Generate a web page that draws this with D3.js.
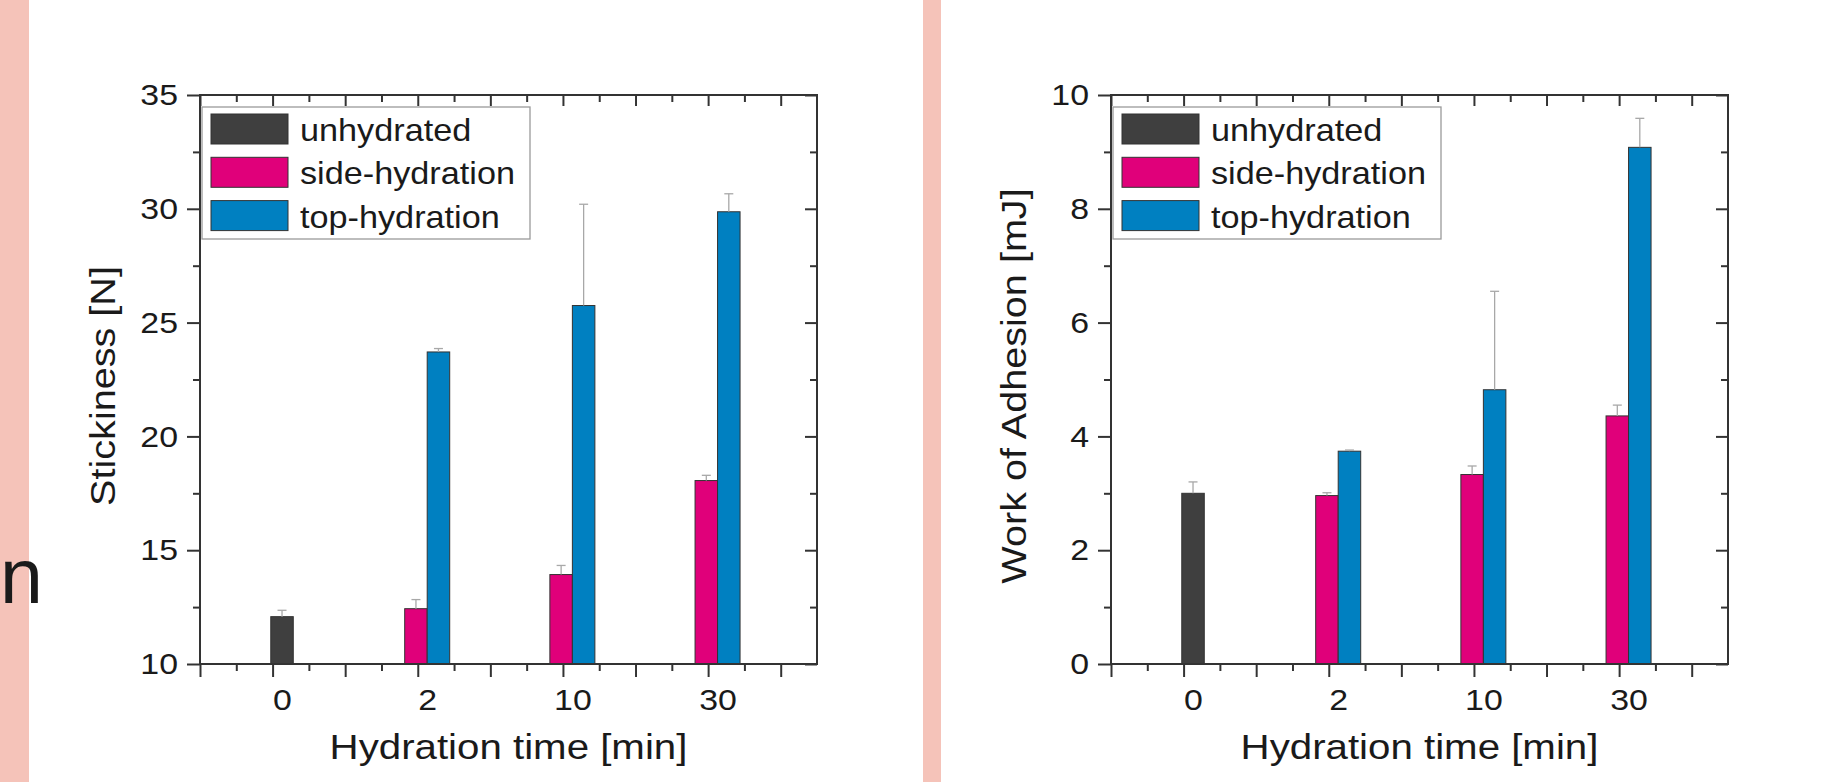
<!DOCTYPE html>
<html>
<head>
<meta charset="utf-8">
<script src="https://cdn.jsdelivr.net/npm/d3@7"></script>
<style>
body { margin: 0; background: #fff; }
text { font-family: "Liberation Sans", Arial, sans-serif; fill: #1a1a1a; }
</style>
</head>
<body>
<div id="chart"></div>
<script>
// categories and series
let categories = ["0", "2", "10", "30"];
let seriesNames = ["unhydrated", "side-hydration", "top-hydration"];
let seriesColors = ["#3f3f3f", "#e0007a", "#0080c1"];

// stickiness [N]
let stickUnhydrated = [12.08, null, null, null];
let stickSide = [null, 12.43, 13.93, 18.06];
let stickTop = [null, 23.71, 25.75, 29.87];
let stickUnhydratedErr = [0.28, null, null, null];
let stickSideErr = [null, 0.40, 0.40, 0.23];
let stickTopErr = [null, 0.15, 4.45, 0.79];
let stickTicks = [10, 15, 20, 25, 30, 35];
let stickMinor = [12.5, 17.5, 22.5, 27.5, 32.5];

// work of adhesion [mJ]
let workUnhydrated = [3.00, null, null, null];
let workSide = [null, 2.96, 3.33, 4.36];
let workTop = [null, 3.74, 4.82, 9.08];
let workUnhydratedErr = [0.20, null, null, null];
let workSideErr = [null, 0.05, 0.15, 0.19];
let workTopErr = [null, 0.02, 1.73, 0.51];
let workTicks = [0, 2, 4, 6, 8, 10];
let workMinor = [1, 3, 5, 7, 9];

let width = 1833, height = 782;
let plotTop = 95, plotBottom = 664, plotW = 617;
let catPos = [1.13, 3.13, 5.13, 7.13];
let barW = 0.31;
let barOffset = [-0.5, -1, 0]; // left edge, in bar widths, per series

let svg = d3.select("#chart").append("svg")
    .attr("width", width)
    .attr("height", height);

// slide background bits
svg.append("rect").attr("x", 0).attr("y", 0).attr("width", 29).attr("height", height).attr("fill", "#f5c3b9");
svg.append("rect").attr("x", 923).attr("y", 0).attr("width", 18).attr("height", height).attr("fill", "#f5c3b9");
svg.append("text").attr("x", 0).attr("y", 603).style("font-size", "77px").text("n");

// widen text horizontally in its own frame
let stretch = (sel, sx) => {
    sel.each(function () {
        let t = d3.select(this);
        let x = +t.attr("x") || 0;
        t.attr("x", x / sx).attr("transform", "scale(" + sx + ",1)");
    });
};

let drawPanel = (left, yDomain, yMajor, yMinor, series, errors, yTitle) => {
    let g = svg.append("g").attr("transform", "translate(" + left + ",0)");

    let x = d3.scaleLinear().domain([0, 8.5]).range([0, plotW]);
    let y = d3.scaleLinear().domain(yDomain).range([plotBottom, plotTop]);

    let data = [];
    series.forEach((vals, s) => {
        vals.forEach((v, i) => {
            if (v === null) return;
            data.push({ s: s, v: v, e: errors[s][i], x0: catPos[i] + barOffset[s] * barW });
        });
    });

    // bars
    g.selectAll(".bar")
        .data(data)
        .enter().append("rect")
        .attr("class", "bar")
        .attr("x", d => x(d.x0))
        .attr("width", x(barW) - x(0))
        .attr("y", d => y(d.v))
        .attr("height", d => y(yDomain[0]) - y(d.v))
        .attr("fill", d => seriesColors[d.s])
        .attr("stroke", "#333")
        .attr("stroke-width", 1);

    // upper error bars
    let eg = g.selectAll(".err").data(data).enter().append("g").attr("class", "err")
        .attr("stroke", "#a8a8a8").attr("stroke-width", 1.3);
    eg.append("line")
        .attr("x1", d => x(d.x0 + barW / 2)).attr("x2", d => x(d.x0 + barW / 2))
        .attr("y1", d => y(d.v)).attr("y2", d => y(d.v + d.e));
    eg.append("line")
        .attr("x1", d => x(d.x0 + barW / 2 - 0.062)).attr("x2", d => x(d.x0 + barW / 2 + 0.062))
        .attr("y1", d => y(d.v + d.e)).attr("y2", d => y(d.v + d.e));

    let styleAxis = (a) => {
        a.select(".domain").remove();
        a.selectAll("line").attr("stroke", "#333").attr("stroke-width", 2);
    };

    // bottom (outward) and top (inward) ticks
    g.append("g").attr("transform", "translate(0," + plotBottom + ")")
        .call(d3.axisBottom(x).tickValues(d3.range(0, 9)).tickSize(13).tickFormat(""))
        .call(styleAxis);
    g.append("g").attr("transform", "translate(0," + plotBottom + ")")
        .call(d3.axisBottom(x).tickValues(d3.range(0.5, 8.5, 1)).tickSize(7).tickFormat(""))
        .call(styleAxis);
    g.append("g").attr("transform", "translate(0," + plotTop + ")")
        .call(d3.axisBottom(x).tickValues(d3.range(0, 9)).tickSize(11).tickFormat(""))
        .call(styleAxis);
    g.append("g").attr("transform", "translate(0," + plotTop + ")")
        .call(d3.axisBottom(x).tickValues(d3.range(0.5, 8.5, 1)).tickSize(7).tickFormat(""))
        .call(styleAxis);

    // category labels
    let xl = g.append("g").attr("transform", "translate(0," + plotBottom + ")")
        .call(d3.axisBottom(x).tickValues(catPos).tickFormat((d, i) => categories[i]).tickSize(0).tickPadding(25));
    xl.select(".domain").remove();
    xl.selectAll("text").style("font-size", "30px").attr("fill", "#1a1a1a").call(stretch, 1.13);

    // left (outward) and right (inward) ticks
    let yl = g.append("g")
        .call(d3.axisLeft(y).tickValues(yMajor).tickSize(13).tickPadding(9))
        .call(styleAxis);
    yl.selectAll("text").style("font-size", "30px").attr("fill", "#1a1a1a").call(stretch, 1.13);
    g.append("g").call(d3.axisLeft(y).tickValues(yMinor).tickSize(7).tickFormat("")).call(styleAxis);
    g.append("g").attr("transform", "translate(" + plotW + ",0)")
        .call(d3.axisLeft(y).tickValues(yMajor).tickSize(12).tickFormat("")).call(styleAxis);
    g.append("g").attr("transform", "translate(" + plotW + ",0)")
        .call(d3.axisLeft(y).tickValues(yMinor).tickSize(7).tickFormat("")).call(styleAxis);

    // frame
    g.append("rect")
        .attr("x", 0).attr("y", plotTop)
        .attr("width", plotW).attr("height", plotBottom - plotTop)
        .attr("fill", "none").attr("stroke", "#333").attr("stroke-width", 2);

    // legend
    let lg = g.append("g").attr("class", "legend");
    lg.append("rect")
        .attr("x", 2).attr("y", 107).attr("width", 328).attr("height", 132)
        .attr("fill", "#fff").attr("stroke", "#9a9a9a").attr("stroke-width", 1.3);
    seriesNames.forEach((name, s) => {
        let top = 114 + s * 43.3;
        lg.append("rect")
            .attr("x", 11).attr("y", top).attr("width", 77).attr("height", 30)
            .attr("fill", seriesColors[s]).attr("stroke", "#333").attr("stroke-width", 1);
        lg.append("text")
            .attr("x", 100).attr("y", top + 27)
            .style("font-size", "32px")
            .text(name)
            .call(stretch, 1.07);
    });

    // axis titles
    g.append("text")
        .attr("transform", "translate(" + x(4.25) + ",759) scale(1.15,1)")
        .attr("text-anchor", "middle")
        .style("font-size", "35px")
        .text("Hydration time [min]");
    g.append("text")
        .attr("transform", "translate(-85,386) rotate(-90) scale(1.1,1)")
        .attr("text-anchor", "middle")
        .style("font-size", "36px")
        .text(yTitle);
};

drawPanel(200, [10, 35], stickTicks, stickMinor,
    [stickUnhydrated, stickSide, stickTop],
    [stickUnhydratedErr, stickSideErr, stickTopErr],
    "Stickiness [N]");

drawPanel(1111, [0, 10], workTicks, workMinor,
    [workUnhydrated, workSide, workTop],
    [workUnhydratedErr, workSideErr, workTopErr],
    "Work of Adhesion [mJ]");
</script>
</body>
</html>
